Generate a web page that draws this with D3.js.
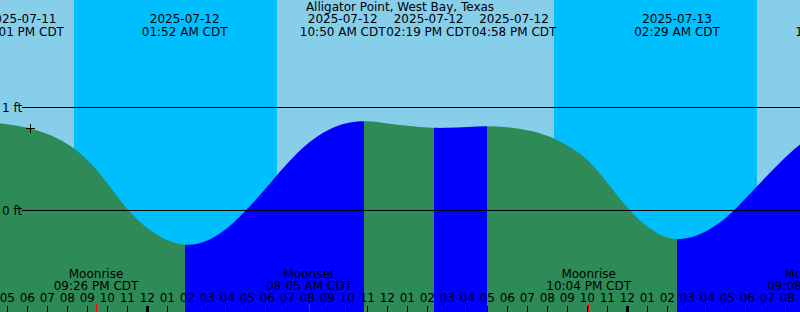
<!DOCTYPE html>
<html>
<head>
  <meta charset="utf-8">
  <title>Alligator Point tides</title>
  <script src="https://d3js.org/d3.v7.min.js"></script>
  <style>
    body { margin: 0; }
    text {
      font-family: "DejaVu Sans", sans-serif;
      font-size: 12px;
      fill: #000;
    }
  </style>
</head>
<body>
  <div id="chart"></div>
  <script>
    var w = 800;
    var h = 312;
    var title = 'Alligator Point, West Bay, Texas';
    var domain = ['2025-07-11T16:38', '2025-07-13T08:38'];

    // hourly heights in ft, first value at 2025-07-11 16:00 CDT
    var hourStart = '2025-07-11T16:00';
    var heights = [
      0.850, 0.838, 0.803, 0.742, 0.645, 0.490, 0.265, 0.015,
      -0.170, -0.287, -0.333, -0.291, -0.170, 0.016, 0.233, 0.456,
      0.645, 0.777, 0.850, 0.866, 0.845, 0.822, 0.805, 0.803,
      0.811, 0.818, 0.808, 0.780, 0.725, 0.630, 0.490, 0.270,
      0.030, -0.155, -0.262, -0.268, -0.194, -0.058, 0.136, 0.340,
      0.534, 0.699
    ];

    var tideTimes = ['2025-07-11T10:22', '2025-07-11T13:52', '2025-07-11T16:01',
      '2025-07-12T01:52', '2025-07-12T10:50', '2025-07-12T14:19', '2025-07-12T16:58',
      '2025-07-13T02:29', '2025-07-13T11:40', '2025-07-13T15:10', '2025-07-13T17:35'];
    var tideKinds = ['high', 'low', 'high', 'low', 'high', 'low', 'high', 'low', 'high', 'low', 'high'];

    var sunTimes = ['2025-07-11T20:19', '2025-07-12T06:28', '2025-07-12T20:19', '2025-07-13T06:29'];

    var moonTimes = ['2025-07-11T21:26', '2025-07-12T08:05', '2025-07-12T22:04', '2025-07-13T09:08'];
    var moonNames = ['Moonrise', 'Moonset', 'Moonrise', 'Moonset'];

    var nowTime = '2025-07-11T18:08';
    var datums = [1, 0];

    var parse = d3.utcParse('%Y-%m-%dT%H:%M');
    var fmtDate = d3.utcFormat('%Y-%m-%d');
    var fmtTime = d3.utcFormat('%I:%M %p CDT');
    var fmtHour = d3.utcFormat('%I');

    var t0 = parse(hourStart);
    var series = heights.map(function (v, i) {
      return { t: d3.utcHour.offset(t0, i), v: v };
    });
    var tides = tideTimes.map(function (s, i) {
      return { t: parse(s), kind: tideKinds[i] };
    });

    var x = d3.scaleUtc()
      .domain(domain.map(parse))
      .range([0, w]);
    var y = d3.scaleLinear()
      .domain([0, 1])
      .range([210.5, 107.5]);

    var svg = d3.select('#chart').append('svg')
      .attr('width', w)
      .attr('height', h);

    // sky: day / night
    svg.append('rect')
      .attr('width', w).attr('height', h)
      .style('fill', '#87ceeb');
    var nights = [];
    for (var i = 0; i < sunTimes.length; i += 2) {
      nights.push([parse(sunTimes[i]), parse(sunTimes[i + 1])]);
    }
    svg.selectAll('rect.night')
      .data(nights)
      .enter().append('rect')
      .attr('class', 'night')
      .attr('x', function (d) { return Math.round(x(d[0])); })
      .attr('width', function (d) { return Math.round(x(d[1])) - Math.round(x(d[0])); })
      .attr('height', h)
      .style('fill', '#00bfff');

    // water, green while falling and blue while rising
    var area = d3.area()
      .x(function (d) { return x(d.t); })
      .y0(h)
      .y1(function (d) { return y(d.v); })
      .curve(d3.curveNatural);

    var segs = d3.pairs(tides);
    var defs = svg.append('defs');
    defs.selectAll('clipPath')
      .data(segs)
      .enter().append('clipPath')
      .attr('id', function (d, i) { return 'seg' + i; })
      .append('rect')
      .attr('x', function (d) { return Math.round(x(d[0].t)); })
      .attr('width', function (d) { return Math.round(x(d[1].t)) - Math.round(x(d[0].t)); })
      .attr('y', 0)
      .attr('height', h);

    svg.selectAll('path.water')
      .data(segs)
      .enter().append('path')
      .attr('class', 'water')
      .attr('d', area(series))
      .attr('clip-path', function (d, i) { return 'url(#seg' + i + ')'; })
      .style('fill', function (d) { return d[1].kind === 'low' ? '#2e8b57' : '#0000ff'; });

    // datum lines
    svg.selectAll('line.datum')
      .data(datums)
      .enter().append('line')
      .attr('class', 'datum')
      .attr('x1', 22).attr('x2', w)
      .attr('y1', function (d) { return y(d); })
      .attr('y2', function (d) { return y(d); })
      .style('stroke', '#000');
    svg.selectAll('text.datum')
      .data(datums)
      .enter().append('text')
      .attr('class', 'datum')
      .attr('x', 2)
      .attr('y', function (d) { return y(d) + 4; })
      .text(function (d) { return d + ' ft'; });

    // now marker on the curve
    var level = d3.scaleUtc()
      .domain(series.map(function (d) { return d.t; }))
      .range(series.map(function (d) { return d.v; }));
    var nt = parse(nowTime);
    var nx = Math.floor(x(nt)) + 0.5;
    var ny = Math.floor(y(level(nt))) + 0.5;
    svg.append('path')
      .attr('d', 'M' + (nx - 4.5) + ',' + ny + 'H' + (nx + 4.5) + 'M' + nx + ',' + (ny - 4.5) + 'V' + (ny + 4.5))
      .style('stroke', '#000')
      .style('fill', 'none');

    // hour ticks
    var hours = d3.utcHour.range(x.domain()[0], x.domain()[1]);
    svg.selectAll('line.tick')
      .data(hours)
      .enter().append('line')
      .attr('class', 'tick')
      .attr('x1', function (d) { return Math.floor(x(d)) + 0.5; })
      .attr('x2', function (d) { return Math.floor(x(d)) + 0.5; })
      .attr('y1', 306).attr('y2', h)
      .style('stroke', '#000')
      .style('stroke-width', function (d) { return d.getUTCHours() === 0 ? 3 : 1; });
    svg.selectAll('text.hour')
      .data(hours)
      .enter().append('text')
      .attr('class', 'hour')
      .attr('x', function (d) { return x(d); })
      .attr('y', 302)
      .attr('text-anchor', 'middle')
      .text(function (d) { return fmtHour(d); });

    // moon events
    var moons = moonTimes.map(function (s, i) { return { t: parse(s), name: moonNames[i] }; });
    svg.selectAll('line.moon')
      .data(moons)
      .enter().append('line')
      .attr('class', 'moon')
      .attr('x1', function (d) { return Math.floor(x(d.t)) + 0.5; })
      .attr('x2', function (d) { return Math.floor(x(d.t)) + 0.5; })
      .attr('y1', 304).attr('y2', h)
      .style('stroke', '#ff0000');
    var ml = svg.selectAll('g.moon')
      .data(moons)
      .enter().append('g')
      .attr('class', 'moon')
      .attr('transform', function (d) { return 'translate(' + x(d.t) + ',0)'; });
    ml.append('text').attr('y', 278).attr('text-anchor', 'middle')
      .text(function (d) { return d.name; });
    ml.append('text').attr('y', 290).attr('text-anchor', 'middle')
      .text(function (d) { return fmtTime(d.t); });

    // tide labels, spread apart where they would overlap
    var tl = svg.selectAll('g.tide')
      .data(tides)
      .enter().append('g')
      .attr('class', 'tide');
    tl.append('text').attr('y', 23).attr('text-anchor', 'middle')
      .text(function (d) { return fmtDate(d.t); });
    tl.append('text').attr('class', 'time').attr('y', 36).attr('text-anchor', 'middle')
      .text(function (d) { return fmtTime(d.t); });
    tl.each(function (d) {
      d.x = x(d.t);
      d.w = this.getBBox().width;
    });

    var groups = tides.map(function (d) { return { items: [d], c: d.x, w: d.w }; });
    var merged = true;
    while (merged) {
      merged = false;
      for (var k = 0; k < groups.length - 1; k++) {
        var a = groups[k], b = groups[k + 1];
        if (a.c + a.w / 2 > b.c - b.w / 2) {
          var items = a.items.concat(b.items);
          groups.splice(k, 2, {
            items: items,
            c: d3.mean(items, function (d) { return d.x; }),
            w: d3.sum(items, function (d) { return d.w; })
          });
          merged = true;
          break;
        }
      }
    }
    groups.forEach(function (g) {
      var left = g.c - g.w / 2;
      g.items.forEach(function (d) {
        d.pos = left + d.w / 2;
        left += d.w;
      });
    });
    tl.attr('transform', function (d) { return 'translate(' + d.pos + ',0)'; });

    svg.append('text')
      .attr('x', w / 2)
      .attr('y', 11)
      .attr('text-anchor', 'middle')
      .text(title);
  </script>
</body>
</html>
